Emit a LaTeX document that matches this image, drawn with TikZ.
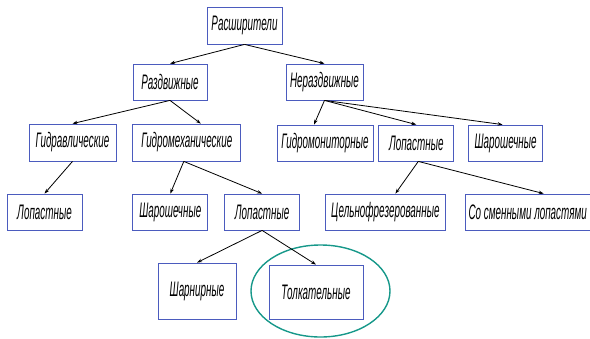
\documentclass[tikz,border=0pt]{standalone}
\usepackage{fontspec}
\setmainfont{Liberation Sans}[FakeStretch=0.47]
\usepackage{tikz}
\usetikzlibrary{positioning,arrows.meta,shapes.geometric}
\definecolor{BoxBlue}{HTML}{4B5BBE}
\definecolor{RingTeal}{HTML}{17988A}

\begin{document}
\begin{tikzpicture}[
  x=1pt,y=-1pt,
  every node/.style={font=\fontsize{21}{23}\selectfont\itshape,align=center},
  box/.style={draw=BoxBlue,line width=0.8pt,fill=white,inner sep=0pt,minimum height=36pt,minimum width=75pt},
  ring/.style={draw=RingTeal,line width=1.4pt,ellipse,inner sep=0pt},
  arr/.style={-{Stealth[length=5pt,width=3.5pt]},line width=0.8pt,draw=black}
]
  \useasboundingbox (0,0) rectangle (590,338);
  % top levels
  \node[box,minimum height=37pt] (root) at (244.5,25.5) {Расширители};
  \node[box,minimum width=74pt] (razd) at (170,82) {Раздвижные};
  \node[box,minimum width=77pt] (nerazd) at (324.5,82) {Нераздвижные};
  % third row
  \node[box,minimum width=87pt,minimum height=37pt] (gidravl) at (72.5,142.5) {Гидравлические};
  \node[box,minimum width=108pt,minimum height=37pt,right=16pt of gidravl] (gidromeh) {Гидромеханические};
  \node[box,minimum width=96pt] (gidromon) at (325,143) {Гидромониторные};
  \node[box,right=5pt of gidromon] (lopR) {Лопастные};
  \node[box,minimum width=74pt,right=14pt of lopR] (sharR) {Шарошечные};
  % fourth row
  \node[box] (lopL) at (44.5,212) {Лопастные};
  \node[box,right=50pt of lopL] (sharM) {Шарошечные};
  \node[box,right=16pt of sharM] (lopM) {Лопастные};
  \node[box,minimum width=120pt,right=25pt of lopM] (celn) {Цельнофрезерованные};
  \node[box,minimum width=125pt,right=19pt of celn] (smen) {Со сменными лопастями};
  % bottom row
  \node[box,minimum width=78pt,minimum height=56pt] (sharnir) at (197,291) {Шарнирные};
  \node[box,minimum width=94pt,minimum height=54pt] (tolkat) at (316,292) {Толкательные};
  \node[ring,minimum width=139pt,minimum height=92pt] (ring) at (320.5,291) {};

  \draw[arr] (root.south) -- (razd.north);
  \draw[arr] (root.south) -- (nerazd.north);
  \draw[arr] (razd.south) -- (gidravl.north);
  \draw[arr] (razd.south) -- ([xshift=14pt]gidromeh.north);
  \draw[arr] (nerazd.south) -- ([xshift=-11pt]gidromon.north);
  \draw[arr] (nerazd.south) -- (lopR.north);
  \draw[arr] (nerazd.south) -- ([xshift=-3pt]sharR.north);
  \draw[arr] (gidravl.south) -- (lopL.north);
  \draw[arr] ([xshift=-3pt]gidromeh.south) -- (sharM.north);
  \draw[arr] ([xshift=-3pt]gidromeh.south) -- (lopM.north);
  \draw[arr] ([xshift=2pt]lopR.south) -- ([xshift=10pt]celn.north);
  \draw[arr] ([xshift=2pt]lopR.south) -- ([xshift=16pt]smen.north);
  \draw[arr] (lopM.south) -- (sharnir.north);
  \draw[arr] (lopM.south) -- (tolkat.north);
\end{tikzpicture}
\end{document}
